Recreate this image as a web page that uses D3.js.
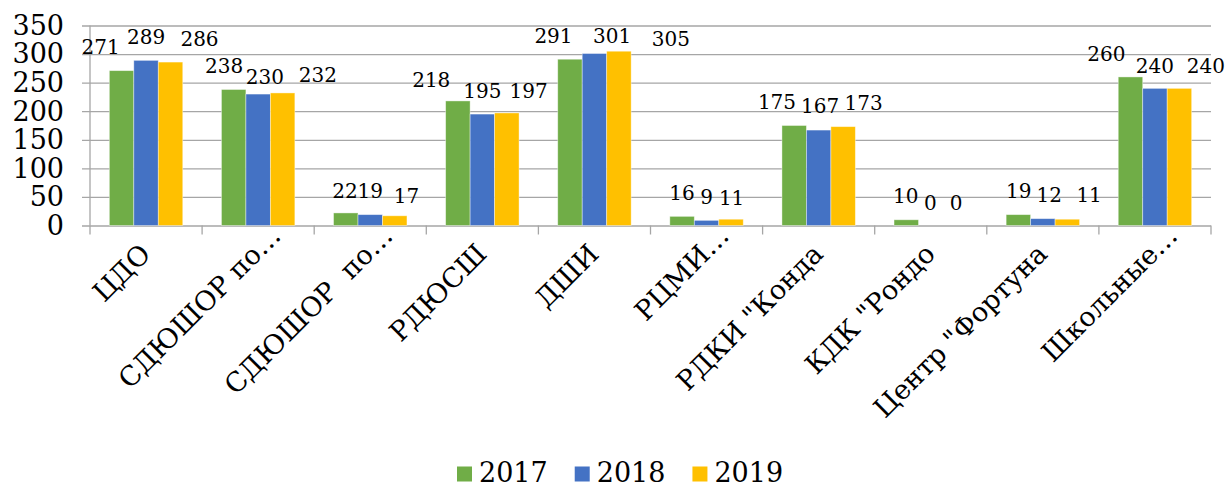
<!DOCTYPE html>
<html>
<head>
<meta charset="utf-8">
<script src="https://cdn.jsdelivr.net/npm/d3@7"></script>
<style>
  html, body { margin: 0; padding: 0; background: #fff; }
  svg { display: block; }
  text { font-family: "DejaVu Serif", "Liberation Serif", serif; fill: #000; }
</style>
</head>
<body>
<svg id="chart" width="1228" height="488"></svg>
<script>
// ---- data ----
const categories = ["ЦДО", "СДЮШОР по…", "СДЮШОР  по…", "РДЮСШ", "ДШИ", "РЦМИ…", "РДКИ \"Конда", "КДК \"Рондо", "Центр \"Фортуна", "Школьные…"];
const years = ["2017", "2018", "2019"];
const values2017 = [271, 238, 22, 218, 291, 16, 175, 10, 19, 260];
const values2018 = [289, 230, 19, 195, 301, 9, 167, 0, 12, 240];
const values2019 = [286, 232, 17, 197, 305, 11, 173, 0, 11, 240];
const yTicks = [0, 50, 100, 150, 200, 250, 300, 350];
const colors = ["#70AD47", "#4472C4", "#FFC000"];

// data-label nudges (manually placed labels in the original), px
const labelShiftX = [
  [-21, -9.5, -0.8, -26.6, -16.5, 0, -17.2, -0.5, 0.3, -24.1],
  [0, 6.7, 0, 0, 17.7, 0, 1.4, -0.4, 6.3, 0],
  [29, 35.2, 11.8, 21.8, 51.9, 0.6, 20.5, 1, 21.8, 26.4]
];
const labelShiftY = [
  [-24.3, -23.9, -22.3, -20.9, -23.6, -23.4, -24, -23.8, -24.3, -22.9],
  [-23.1, -16.8, -24, -23.5, -17.9, -23.1, -24.1, -23.2, -23.8, -22.8],
  [-23.1, -17.9, -20.2, -22.3, -12.2, -21.9, -24.3, -23.2, -24.4, -22.8]
];

const series = [values2017, values2018, values2019];

// ---- layout ----
const svg = d3.select("#chart");
svg.append("rect").attr("width", 1228).attr("height", 488).attr("fill", "#fff");

const plotLeft = 90, plotRight = 1211, plotBottom = 225.5, plotTop = 25.5;
const x = d3.scaleBand().domain(categories).range([plotLeft, plotRight]).padding(0);
const xi = d3.scaleBand().domain(years).range([0, x.bandwidth()]).paddingInner(0).paddingOuter(0.79);
const y = d3.scaleLinear().domain([0, 350]).range([plotBottom, plotTop]);

const gridColor = "#A6A6A6";

// gridlines + y labels
const yAxis = d3.axisLeft(y).tickValues(yTicks).tickSize(plotRight - plotLeft + 8).tickPadding(18).tickFormat(d3.format("d"));
const gy = svg.append("g").attr("transform", `translate(${plotRight},0)`).call(yAxis);
gy.select(".domain").remove();
gy.selectAll(".tick line").attr("stroke", gridColor).attr("stroke-width", 1.3);
gy.selectAll(".tick text").attr("font-size", 27).attr("x", -(plotRight - plotLeft) - 26).attr("dy", "0.33em")
  .style("font-family", "'DejaVu Serif', serif").attr("fill", "#000");

// vertical axis line
svg.append("line").attr("x1", plotLeft).attr("x2", plotLeft).attr("y1", plotTop).attr("y2", plotBottom)
  .attr("stroke", gridColor).attr("stroke-width", 1.3);

// category axis ticks
const catBounds = categories.map(c => x(c)).concat([plotRight]);
svg.append("g").selectAll("line").data(catBounds).join("line")
  .attr("x1", d => d).attr("x2", d => d).attr("y1", plotBottom).attr("y2", plotBottom + 9)
  .attr("stroke", gridColor).attr("stroke-width", 1.3);

// bars
const groups = svg.append("g").selectAll("g").data(series).join("g")
  .attr("fill", (d, i) => colors[i]);
groups.each(function (vals, si) {
  d3.select(this).selectAll("rect").data(vals).join("rect")
    .attr("x", (v, ci) => x(categories[ci]) + xi(years[si]))
    .attr("width", xi.bandwidth())
    .attr("y", v => y(v))
    .attr("height", v => y(0) - y(v))
    .attr("stroke", "#ffffff").attr("stroke-opacity", 0.5).attr("stroke-width", 0.8);
});

// data labels
series.forEach((vals, si) => {
  svg.append("g").selectAll("text").data(vals).join("text")
    .attr("x", (v, ci) => x(categories[ci]) + xi(years[si]) + xi.bandwidth() / 2 + labelShiftX[si][ci])
    .attr("y", (v, ci) => y(v) + labelShiftY[si][ci])
    .attr("dy", "0.36em")
    .attr("text-anchor", "middle")
    .attr("font-size", 20)
    .text(v => v);
});

// category labels (the truncation ellipsis hangs past the anchor, as in the original)
const catFont = 27;
const probe = svg.append("text").attr("font-size", catFont).text("…");
const ellW = probe.node().getComputedTextLength();
probe.remove();
svg.append("g").selectAll("text").data(categories).join("text")
  .attr("transform", c => `translate(${x(c) + x.bandwidth() / 2 + 6},${plotBottom + 30}) rotate(-45)`)
  .attr("text-anchor", "end")
  .attr("dx", c => c.endsWith("…") ? ellW * 0.95 : 0)
  .attr("font-size", catFont)
  .style("white-space", "pre")
  .text(c => c);

// legend
const legend = svg.append("g");
let lx = 457;
years.forEach((yr, i) => {
  legend.append("rect").attr("x", lx).attr("y", 466.5).attr("width", 15).attr("height", 15).attr("fill", colors[i]);
  const t = legend.append("text").attr("x", lx + 22).attr("y", 481.5).attr("font-size", 27).text(yr);
  lx += 22 + t.node().getComputedTextLength() + 27;
});
</script>
</body>
</html>
